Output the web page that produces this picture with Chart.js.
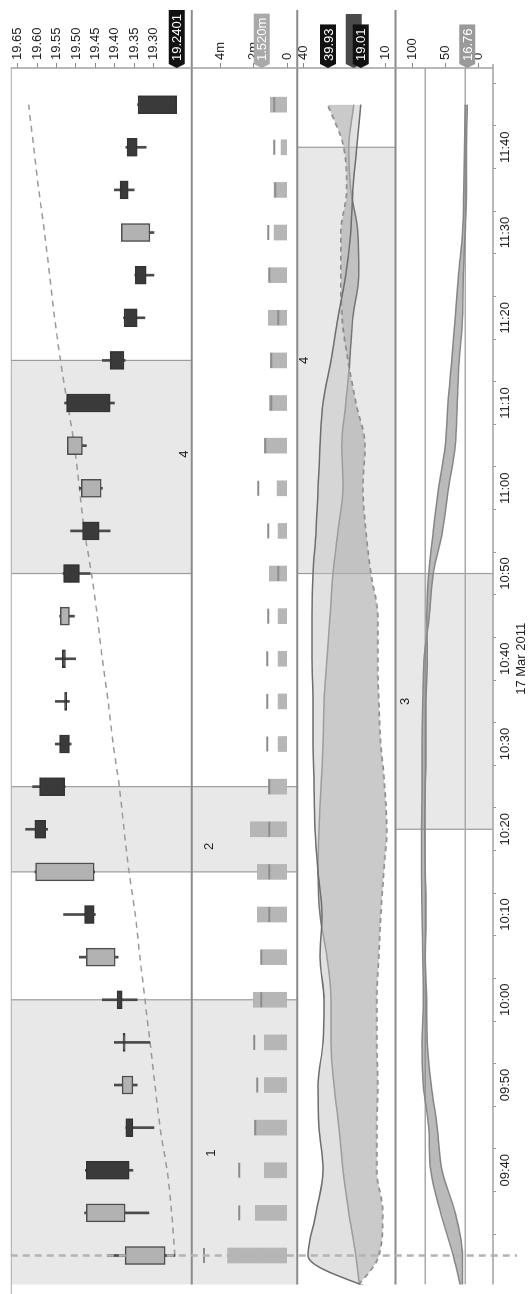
<!DOCTYPE html>
<html>
<head>
<meta charset="utf-8">
<script src="https://cdn.jsdelivr.net/npm/chart.js@4.4.1/dist/chart.umd.min.js"></script>
<style>
  html, body { margin: 0; padding: 0; background: #fff; overflow: hidden; }
  #stage { position: relative; width: 529px; height: 1294px; }
  /* chart is drawn landscape, then turned a quarter left */
  #wrap { position: absolute; left: 0; top: 0; width: 1294px; height: 529px;
          transform-origin: 0 0; transform: translate(0, 1294px) rotate(-90deg); }
</style>
</head>
<body>
<div id="stage"><div id="wrap"><canvas id="chart" width="1294" height="529"></canvas></div></div>
<script>
// 5 minute bars, 17 Mar 2011
const times = ['09:30','09:35','09:40','09:45','09:50','09:55','10:00','10:05','10:10','10:15','10:20','10:25','10:30','10:35',
               '10:40','10:45','10:50','10:55','11:00','11:05','11:10','11:15','11:20','11:25','11:30','11:35','11:40','11:45'];
const openP  = [19.270,19.373,19.473,19.371,19.353,19.376,19.394,19.399,19.478,19.453,19.606,19.594,19.542,19.529,
                19.535,19.517,19.532,19.483,19.435,19.483,19.524,19.412,19.376,19.347,19.309,19.386,19.368,19.340];
const highP  = [19.419,19.478,19.476,19.371,19.401,19.401,19.432,19.491,19.532,19.606,19.630,19.612,19.553,19.553,
                19.553,19.542,19.533,19.514,19.491,19.522,19.529,19.432,19.377,19.348,19.383,19.401,19.371,19.341];
const lowP   = [19.245,19.312,19.353,19.299,19.342,19.309,19.342,19.391,19.450,19.452,19.573,19.528,19.512,19.517,
                19.501,19.504,19.463,19.412,19.432,19.473,19.401,19.373,19.322,19.299,19.299,19.350,19.319,19.240];
const closeP = [19.373,19.473,19.363,19.353,19.381,19.373,19.381,19.473,19.453,19.604,19.578,19.529,19.517,19.524,
                19.527,19.540,19.491,19.440,19.486,19.522,19.412,19.376,19.342,19.319,19.383,19.365,19.342,19.2401];
const trendLine = [19.245,19.253,19.265,19.283,19.296,19.309,19.322,19.335,19.347,19.363,19.376,19.388,19.404,19.417,
                   19.432,19.445,19.460,19.478,19.491,19.504,19.522,19.540,19.555,19.568,19.581,19.596,19.609,19.622];

// volume in millions, plus the short marker drawn on each bar
const volume  = [3.58,1.91,1.37,1.97,1.37,1.37,2.03,1.55,1.79,1.79,2.21,1.13,0.54,0.54,
                 0.54,0.54,1.07,0.54,0.60,1.37,1.07,1.01,1.13,1.07,0.78,0.78,0.36,1.01];
const volMark = [5.00,2.87,2.87,1.91,1.79,1.97,1.55,1.55,1.07,1.07,1.07,1.07,1.19,1.19,
                 1.19,1.13,0.54,1.13,1.73,1.31,0.96,0.96,0.54,1.07,1.13,0.72,0.78,0.78];

// indicator lines start one bar before the open
const lineTimes = ['09:25', ...times];
const dmiA = [6.75, 38.19,35.30,32.77,34.22,34.58,32.77,32.41,33.86,33.13,34.58,35.66,36.02,36.39,36.39,
              36.75,36.75,36.39,35.30,34.58,33.86,32.77,29.88,27.35,24.46,22.65,21.93,20.48,19.01];
const dmiB = [19.04, 20.85,23.38,25.54,26.99,28.80,29.88,29.88,31.33,33.86,34.58,34.22,33.49,32.77,32.41,
              31.33,30.24,29.16,27.35,25.54,25.91,24.46,23.01,21.93,19.76,20.12,22.65,23.38,21.57];
const dmiC = [24.10, 12.53,11.09,13.26,13.26,12.90,13.26,13.26,12.53,11.81,10.73,9.64,10.37,11.81,12.53,
              12.90,12.90,15.42,17.23,18.32,17.59,20.85,23.74,25.91,26.27,26.27,24.10,25.18,30.96];
const stochK = [23, 38,57,72,75,83,85,83,84,85,86,86,85,85,84,82,74,68,54,45,35,32,29,24,23,20,18,18,16.76];
const stochD = [24, 24,35,55,62,71,77,78,80,79,80,81,80,79,79,77,78,75,68,60,50,46,40,35,30,24,22,21,20];
const stochLevels = [80, 20];

// tick labels
const priceTicks = [19.30,19.35,19.40,19.45,19.50,19.55,19.60,19.65];
const volTicks = [0, 2, 4];
const dmiTicks = [10, 40];
const oscTicks = [0, 50, 100];
const timeTicks = times.slice(1);
const dateAt = '10:40', dateText = '17 Mar 2011';
const sessionStart = '09:30';

// shaded zones
const regionLabel  = ['1', '2', '3', '4', '4'];
const regionFrom   = ['09:23', '10:15', '10:20', '10:50', '10:50'];
const regionTo     = ['10:00', '10:25', '10:50', '11:15', '11:40'];
const regionLabelAt = ['09:42', '10:18', '10:35', '11:04', '11:15'];
const regionPanels = [['yPrice','yVol'], ['yPrice','yVol'], ['yOsc'], ['yPrice'], ['yDmi']];

// last value tags
const tagText  = ['19.2401', '1.520m', '39.93', '', '19.01', '16.76'];
const tagAxis  = ['yPrice', 'yVol', 'yDmi', 'yDmi', 'yDmi', 'yOsc'];
const tagValue = [closeP.at(-1), 1.52, dmiC.at(-1), dmiB.at(-1), dmiA.at(-1), stochK.at(-1)];
const tagColor = ['#111', '#a9a9a9', '#111', '#4a4a4a', '#111', '#9a9a9a'];

const toMin = s => { const [h, m] = s.split(':').map(Number); return h * 60 + m; };
const fmtTime = v => String(Math.floor(v / 60)).padStart(2, '0') + ':' + String(v % 60).padStart(2, '0');
const pts = (ts, vals) => ts.map((t, i) => ({ x: toMin(t), y: vals[i] }));

Chart.defaults.font.family = '"Liberation Sans", Arial, sans-serif';
Chart.defaults.font.size = 13;
Chart.defaults.color = '#222';

// placement of the zone numbers inside their panel (px from panel top)
const labelPanel = ['yVol', 'yVol', 'yOsc', 'yPrice', 'yDmi'];
const labelDy = [20, 18, 10, 174, 7];

const panelDecor = {
  id: 'panelDecor',
  beforeDatasetsDraw(chart) {
    const { ctx, chartArea: ca, scales } = chart;
    const x = scales.x;
    ctx.save();
    ctx.beginPath(); ctx.rect(ca.left, ca.top, ca.width, ca.height); ctx.clip();
    regionFrom.forEach((from, i) => {
      const x0 = x.getPixelForValue(toMin(from));
      const x1 = x.getPixelForValue(toMin(regionTo[i]));
      const axes = regionPanels[i].map(id => scales[id]);
      const top = Math.min(...axes.map(a => a.top));
      const bottom = Math.max(...axes.map(a => a.bottom));
      ctx.fillStyle = '#e8e8e8';
      ctx.fillRect(x0, top, x1 - x0, bottom - top);
      ctx.strokeStyle = '#9c9c9c';
      ctx.lineWidth = 1.2;
      ctx.beginPath();
      ctx.moveTo(x0, top); ctx.lineTo(x0, bottom);
      ctx.moveTo(x1, top); ctx.lineTo(x1, bottom);
      ctx.stroke();
      ctx.fillStyle = '#222';
      ctx.font = '13px "Liberation Sans", Arial';
      ctx.textAlign = 'center';
      ctx.textBaseline = 'middle';
      ctx.fillText(regionLabel[i], x.getPixelForValue(toMin(regionLabelAt[i])), scales[labelPanel[i]].top + labelDy[i]);
    });
    // oscillator levels
    ctx.strokeStyle = '#a8a8a8';
    ctx.lineWidth = 1.5;
    stochLevels.forEach(v => {
      const y = scales.yOsc.getPixelForValue(v);
      ctx.beginPath(); ctx.moveTo(ca.left, y); ctx.lineTo(ca.right, y); ctx.stroke();
    });
    ctx.restore();
  },
  afterDraw(chart) {
    const { ctx, chartArea: ca, scales } = chart;
    ctx.save();
    // frame and panel separators
    ctx.strokeStyle = '#aaa'; ctx.lineWidth = 1;
    ctx.beginPath(); ctx.moveTo(0, ca.top + 0.5); ctx.lineTo(ca.right, ca.top + 0.5); ctx.stroke();
    ctx.strokeStyle = '#8a8a8a'; ctx.lineWidth = 2;
    ['yVol', 'yDmi', 'yOsc'].forEach(id => {
      const y = scales[id].top;
      ctx.beginPath(); ctx.moveTo(ca.left, y); ctx.lineTo(ca.right + 58, y); ctx.stroke();
    });
    ctx.strokeStyle = '#a0a0a0'; ctx.lineWidth = 1.5;
    ctx.beginPath(); ctx.moveTo(ca.left, ca.bottom); ctx.lineTo(ca.right + 4, ca.bottom); ctx.stroke();
    ctx.beginPath(); ctx.moveTo(ca.right, ca.top); ctx.lineTo(ca.right, ca.bottom); ctx.stroke();
    // session open marker
    const xs = scales.x.getPixelForValue(toMin(sessionStart));
    ctx.strokeStyle = '#b4b4b4'; ctx.lineWidth = 2.5; ctx.setLineDash([7, 5]);
    ctx.beginPath(); ctx.moveTo(xs, ca.top); ctx.lineTo(xs, chart.height - 12); ctx.stroke();
    ctx.setLineDash([]);
    // value tags
    ctx.font = '13px "Liberation Sans", Arial';
    ctx.textAlign = 'left';
    ctx.textBaseline = 'middle';
    tagText.forEach((t, i) => {
      const y = scales[tagAxis[i]].getPixelForValue(tagValue[i]);
      const x0 = ca.right + 4;
      const w = t ? ctx.measureText(t).width + 7 : 50;
      ctx.fillStyle = tagColor[i];
      ctx.beginPath();
      ctx.moveTo(ca.right, y);
      ctx.lineTo(x0, y - 8); ctx.lineTo(x0 + w, y - 8);
      ctx.lineTo(x0 + w, y + 8); ctx.lineTo(x0, y + 8);
      ctx.closePath(); ctx.fill();
      if (t) { ctx.fillStyle = '#fff'; ctx.fillText(t, x0 + 3, y + 1); }
    });
    ctx.restore();
  }
};

const yAxis = (weight, min, max, ticks, fmt) => ({
  type: 'linear', position: 'right', stack: 'panels', stackWeight: weight,
  min, max, offset: false,
  grid: { display: true, drawOnChartArea: false, drawTicks: true, tickLength: 5, color: '#888' },
  border: { display: false },
  ticks: { padding: 3, autoSkip: false, callback: fmt },
  afterBuildTicks: a => { a.ticks = ticks.map(v => ({ value: v })); },
  afterFit: a => { a.width = 68; }
});

const up = closeP.map((c, i) => c >= openP[i]);

new Chart(document.getElementById('chart'), {
  type: 'bar',
  data: {
    datasets: [
      { type: 'line', data: pts(times, trendLine), yAxisID: 'yPrice', borderColor: '#9a9a9a', borderWidth: 1.5,
        borderDash: [6, 5], pointRadius: 0, tension: 0.3, order: 3 },
      { data: times.map((t, i) => ({ x: toMin(t), y: [lowP[i], highP[i]] })), yAxisID: 'yPrice',
        backgroundColor: '#4a4a4a', barThickness: 2, grouped: false, order: 2 },
      { data: times.map((t, i) => ({ x: toMin(t), y: [openP[i], closeP[i]] })), yAxisID: 'yPrice',
        backgroundColor: up.map(u => u ? '#b2b2b2' : '#3a3a3a'), borderColor: up.map(u => u ? '#4e4e4e' : '#333'),
        borderWidth: 1.5, borderSkipped: false, barThickness: 18, minBarLength: 2, grouped: false, order: 1 },
      { data: pts(times, volume), yAxisID: 'yVol', backgroundColor: '#b6b6b6', barThickness: 15, grouped: false, order: 2 },
      { type: 'line', data: pts(times, volMark), yAxisID: 'yVol', showLine: false, pointStyle: 'line',
        pointRadius: 7.5, pointBorderWidth: 2, pointBorderColor: '#8c8c8c', order: 1 },
      { type: 'line', data: pts(lineTimes, dmiA), yAxisID: 'yDmi', borderColor: '#6e6e6e', borderWidth: 1.5,
        pointRadius: 0, cubicInterpolationMode: 'monotone', fill: 7, backgroundColor: 'rgba(196,196,196,0.5)', order: 3 },
      { type: 'line', data: pts(lineTimes, dmiB), yAxisID: 'yDmi', borderColor: '#777', borderWidth: 1.5,
        pointRadius: 0, cubicInterpolationMode: 'monotone', fill: 7, backgroundColor: 'rgba(120,120,120,0.35)', order: 3 },
      { type: 'line', data: pts(lineTimes, dmiC), yAxisID: 'yDmi', borderColor: '#8a8a8a', borderWidth: 2,
        borderDash: [5, 4], pointRadius: 0, cubicInterpolationMode: 'monotone', fill: false, order: 3 },
      { type: 'line', data: pts(lineTimes, stochK), yAxisID: 'yOsc', borderColor: '#888', borderWidth: 1.5,
        pointRadius: 0, cubicInterpolationMode: 'monotone', fill: 9, backgroundColor: 'rgba(130,130,130,0.55)', order: 3 },
      { type: 'line', data: pts(lineTimes, stochD), yAxisID: 'yOsc', borderColor: '#888', borderWidth: 1.5,
        pointRadius: 0, cubicInterpolationMode: 'monotone', fill: false, order: 3 }
    ]
  },
  options: {
    responsive: false,
    animation: false,
    layout: { padding: { top: 8, left: 0, right: 0, bottom: 0 } },
    plugins: { legend: { display: false }, tooltip: { enabled: false } },
    scales: {
      x: {
        type: 'linear', min: 566.6, max: 709.3, offset: false,
        grid: { display: true, drawOnChartArea: false, tickLength: 3, color: '#999' },
        border: { display: false },
        ticks: {
          autoSkip: false, maxRotation: 0, padding: 2,
          callback: v => {
            if (v % 10 !== 0) return '';
            const s = fmtTime(v);
            return s === dateAt ? [s, dateText] : s;
          }
        },
        afterBuildTicks: a => { a.ticks = timeTicks.map(t => ({ value: toMin(t) })); },
        afterFit: a => { a.height = 36; }
      },
      yPrice: yAxis(182, 19.2013, 19.668, priceTicks, v => v.toFixed(2)),
      yVol: yAxis(106, -0.6, 5.73, volTicks, v => v === 0 ? '0' : v + 'm'),
      yDmi: yAxis(99, 6.39, 42.17, dmiTicks, v => String(v)),
      yOsc: yAxis(98, -22.05, 124.95, oscTicks, v => String(v))
    }
  },
  plugins: [panelDecor]
});
</script>
</body>
</html>
